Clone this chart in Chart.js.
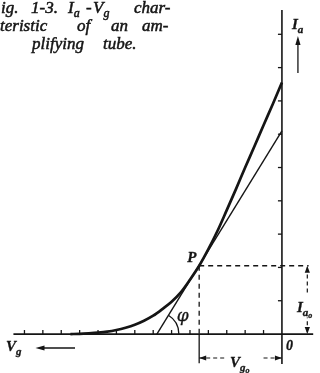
<!DOCTYPE html>
<html>
<head>
<meta charset="utf-8">
<script src="https://cdn.jsdelivr.net/npm/chart.js@4.4.0/dist/chart.umd.min.js"></script>
<style>
  html, body { margin: 0; padding: 0; background: #fff; }
  #wrap { width: 320px; height: 373px; }
</style>
</head>
<body>
<div id="wrap"><canvas id="tubeChart" width="320" height="373"></canvas></div>
<script>
// Ia-Vg characteristic (units = one tick step on each axis)
const vgValues = [-11.5, -11, -10.5, -10, -9.5, -9, -8.5, -8, -7.5, -7, -6.5, -6, -5.5, -5,
  -4.5, -4, -3.5, -3, -2.5, -2, -1.5, -1, -0.5, 0];
const iaValues = [0, 0.005, 0.02, 0.04, 0.07, 0.12, 0.19, 0.28, 0.4, 0.55, 0.75, 0.97, 1.25, 1.63,
  2.05, 2.55, 3.1, 3.72, 4.35, 5.0, 5.63, 6.27, 6.9, 7.55];

// operating point P and the tangent through it
const pointP = { vg: -4.5, ia: 2.05 };
const tangentVg = [-6.8, 0];
const tangentIa = [0, 6.1];

// axes and tick marks
const xAxisEnds = [-14.6, 1.7];
const yAxisEnds = [-0.9, 9.73];
const xTicks = [-14, -13, -12, -11, -10, -9, -8, -7, -6, -5, -4, -3, -2, -1];
const yTicks = [1, 2, 3, 4, 5, 6, 7, 8, 9];

// dimension lines (Ia0 on the right, Vg0 below)
const iaDimVg = 1.38;
const vgDimIa = -0.72;

const INK = '#151515';
const SERIF = '"Liberation Serif", serif';

function seg(x1, y1, x2, y2) {
  return [{ x: x1, y: y1 }, { x: x2, y: y2 }];
}

function lineSet(data, width, dash) {
  return {
    data: data,
    showLine: true,
    borderColor: INK,
    borderWidth: width,
    borderDash: dash || [],
    pointRadius: 0,
    spanGaps: false,
    fill: false
  };
}

function arrowHead(ctx, x, y, angle, len, half) {
  ctx.save();
  ctx.translate(x, y);
  ctx.rotate(angle);
  ctx.beginPath();
  ctx.moveTo(0, 0);
  ctx.lineTo(-len, -half);
  ctx.lineTo(-len, half);
  ctx.closePath();
  ctx.fill();
  ctx.restore();
}

// slightly heavier text, like the scanned print
function inkText(ctx, s, x, y) {
  ctx.fillText(s, x, y);
  ctx.strokeText(s, x, y);
}

// label with subscript (and optional second-level subscript)
function subLabel(ctx, main, sub, sub2, x, y, size, weight) {
  const w0 = weight || 'bold';
  ctx.font = 'italic ' + w0 + ' ' + size + 'px ' + SERIF;
  inkText(ctx, main, x, y);
  const w = ctx.measureText(main).width;
  ctx.font = 'italic ' + w0 + ' ' + Math.round(size * 0.72) + 'px ' + SERIF;
  inkText(ctx, sub, x + w, y + size * 0.25);
  if (sub2) {
    const w2 = ctx.measureText(sub).width;
    ctx.font = 'italic ' + w0 + ' ' + Math.round(size * 0.55) + 'px ' + SERIF;
    inkText(ctx, sub2, x + w + w2, y + size * 0.42);
  }
}

const annotations = {
  id: 'annotations',
  afterDatasetsDraw(chart) {
    const ctx = chart.ctx;
    const sx = chart.scales.x, sy = chart.scales.y;
    const px = v => sx.getPixelForValue(v);
    const py = v => sy.getPixelForValue(v);

    ctx.save();
    ctx.strokeStyle = INK;
    ctx.fillStyle = INK;
    ctx.lineWidth = 1.3;

    // tick marks
    xTicks.forEach(t => {
      ctx.beginPath();
      ctx.moveTo(px(t), py(0));
      ctx.lineTo(px(t), py(0) - 4);
      ctx.stroke();
    });
    yTicks.forEach(t => {
      ctx.beginPath();
      ctx.moveTo(px(0), py(t));
      ctx.lineTo(px(0) - 4, py(t));
      ctx.stroke();
    });

    // angle phi between tangent and Vg axis
    const vx = px(tangentVg[0]), vy = py(0);
    const ang = Math.atan2(py(tangentIa[1]) - vy, px(tangentVg[1]) - vx);
    ctx.lineWidth = 1.3;
    ctx.beginPath();
    ctx.arc(vx, vy, 22, ang, 0);
    ctx.stroke();

    // arrowheads
    arrowHead(ctx, px(0.87), py(8.95), -Math.PI / 2, 9, 2.6);
    arrowHead(ctx, px(-13.4), py(-0.42), Math.PI, 9, 2.6);
    arrowHead(ctx, px(iaDimVg), py(pointP.ia), -Math.PI / 2, 7, 2.6);
    arrowHead(ctx, px(iaDimVg), py(0), Math.PI / 2, 7, 2.6);
    arrowHead(ctx, px(pointP.vg), py(vgDimIa), Math.PI, 7, 2.6);
    arrowHead(ctx, px(0), py(vgDimIa), 0, 7, 2.6);

    // caption
    ctx.lineWidth = 0.5;
    ctx.textBaseline = 'alphabetic';
    ctx.font = 'italic 17px ' + SERIF;
    inkText(ctx, 'ig.', 1, 13);
    inkText(ctx, '1-3.', 31, 13);
    subLabel(ctx, 'I', 'a', null, 68, 13, 17, 'normal');
    ctx.font = 'italic 17px ' + SERIF;
    inkText(ctx, '-', 86, 13);
    subLabel(ctx, 'V', 'g', null, 93, 13, 17, 'normal');
    ctx.font = 'italic 17px ' + SERIF;
    inkText(ctx, 'char-', 134, 13);
    inkText(ctx, 'teristic', 0, 31);
    inkText(ctx, 'of', 77, 31);
    inkText(ctx, 'an', 111, 31);
    inkText(ctx, 'am-', 142, 31);
    inkText(ctx, 'plifying', 32, 49);
    inkText(ctx, 'tube.', 103, 49);

    // labels
    ctx.lineWidth = 0.3;
    subLabel(ctx, 'I', 'a', null, 292, 29, 15);
    ctx.font = 'italic bold 15px ' + SERIF;
    inkText(ctx, 'P', px(pointP.vg) - 12, py(pointP.ia) - 4);
    ctx.font = 'italic 17px "DejaVu Serif", serif';
    inkText(ctx, '\u03C6', px(tangentVg[0]) + 20, py(0) - 13);
    ctx.font = 'italic bold 14px ' + SERIF;
    inkText(ctx, '0', px(0) + 4, py(0) + 16);
    subLabel(ctx, 'V', 'g', null, 6, py(0) + 17, 15);
    subLabel(ctx, 'I', 'a', 'o', 297, py(0) - 22, 15);
    subLabel(ctx, 'V', 'g', 'o', 230, py(vgDimIa) + 9, 15);

    ctx.restore();
  }
};

const curvePoints = vgValues.map((v, i) => ({ x: v, y: iaValues[i] }));

new Chart(document.getElementById('tubeChart').getContext('2d'), {
  type: 'scatter',
  data: {
    datasets: [
      Object.assign(lineSet(curvePoints, 2.7), { cubicInterpolationMode: 'monotone' }),
      lineSet(seg(tangentVg[0], tangentIa[0], tangentVg[1], tangentIa[1]), 1.4),
      lineSet(seg(xAxisEnds[0], 0, xAxisEnds[1], 0), 1.7),
      lineSet(seg(0, yAxisEnds[0], 0, yAxisEnds[1]), 1.6),
      lineSet(seg(pointP.vg, pointP.ia, 1.45, pointP.ia), 1.3, [5, 4]),
      lineSet(seg(pointP.vg, pointP.ia, pointP.vg, 0), 1.3, [5, 4]),
      lineSet(seg(pointP.vg, 0, pointP.vg, -0.88), 1.3),
      lineSet([{ x: iaDimVg, y: 0.05 }, { x: iaDimVg, y: 0.5 }, { x: iaDimVg, y: null },
        { x: iaDimVg, y: 1.25 }, { x: iaDimVg, y: 2.0 }], 1.2, [4, 3]),
      lineSet([{ x: pointP.vg, y: vgDimIa }, { x: -3.0, y: vgDimIa }, { x: -2, y: null },
        { x: -1.0, y: vgDimIa }, { x: 0, y: vgDimIa }], 1.2, [4, 3]),
      lineSet(seg(0.87, 7.84, 0.87, 8.7), 1.3),
      lineSet(seg(-11.25, -0.42, -13.2, -0.42), 1.3)
    ]
  },
  options: {
    responsive: false,
    animation: false,
    layout: { padding: 0 },
    plugins: { legend: { display: false }, tooltip: { enabled: false } },
    scales: {
      x: { type: 'linear', min: -15.33, max: 2.07, display: false },
      y: { type: 'linear', min: -1.17, max: 10.03, display: false }
    }
  },
  plugins: [annotations]
});
</script>
</body>
</html>
